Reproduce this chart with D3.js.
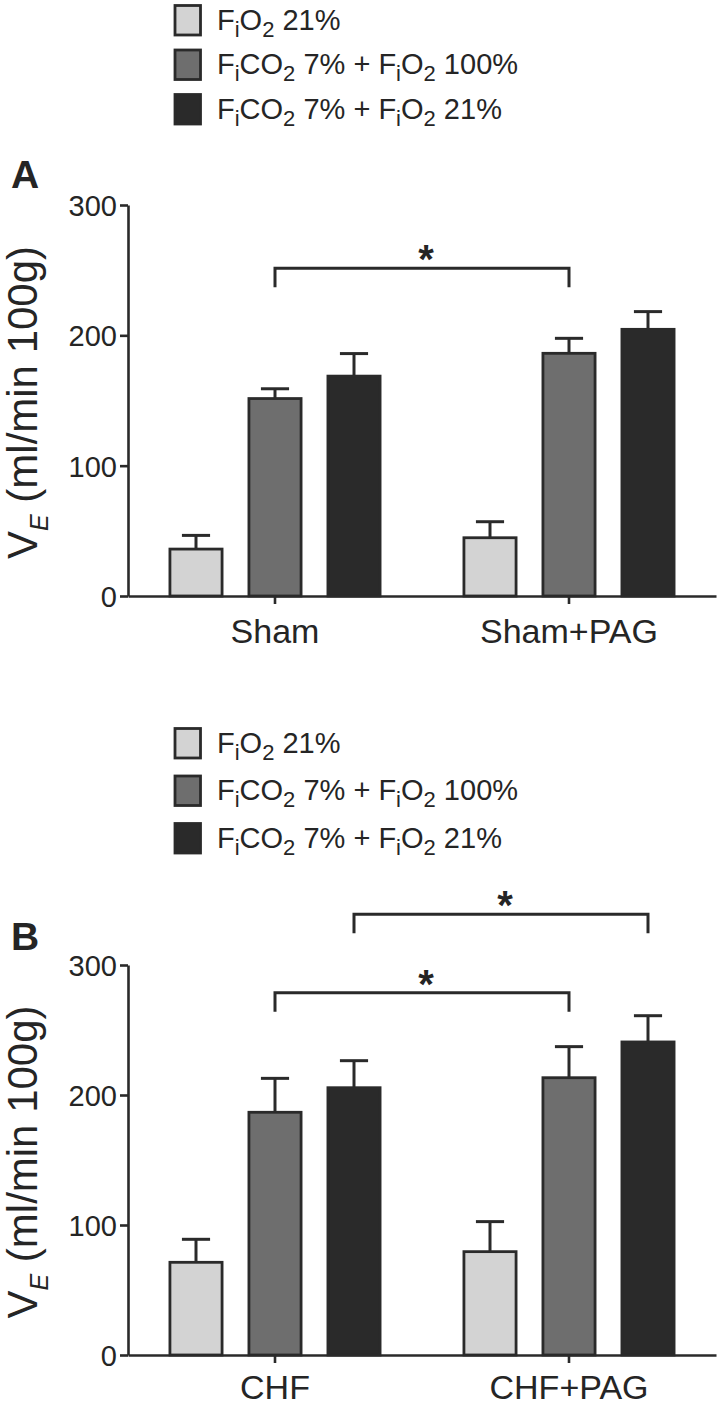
<!DOCTYPE html>
<html>
<head>
<meta charset="utf-8">
<script src="https://cdn.jsdelivr.net/npm/d3@7"></script>
<style>
  html, body { margin: 0; padding: 0; background: #ffffff; }
  svg { display: block; }
  text { font-family: "Liberation Sans", Arial, Helvetica, sans-serif; fill: #252525; }
</style>
</head>
<body>
<svg id="chart" width="720" height="1406"></svg>
<script>
// ---------------- data ----------------
const seriesKeys = ["O2_21", "CO2_7_O2_100", "CO2_7_O2_21"];
// legend labels as [text, isSubscript] parts
const legendLabels = [
  [["F", 0], ["i", 1], ["O", 0], ["2", 1], [" 21%", 0]],
  [["F", 0], ["i", 1], ["CO", 0], ["2", 1], [" 7% + F", 0], ["i", 1], ["O", 0], ["2", 1], [" 100%", 0]],
  [["F", 0], ["i", 1], ["CO", 0], ["2", 1], [" 7% + F", 0], ["i", 1], ["O", 0], ["2", 1], [" 21%", 0]]
];
const yTicks = [0, 100, 200, 300];

// Panel A
const groupsA = ["Sham", "Sham+PAG"];
const shamMean = [36, 151.5, 168.7];
const shamSem = [10.5, 7.5, 17.3];
const shamPagMean = [44.7, 186.2, 204.6];
const shamPagSem = [12.3, 11.5, 13.6];
// brackets: [group1, series1, group2, series2, level]
const bracketsA = [[0, 1, 1, 1, 251.5]];

// Panel B
const groupsB = ["CHF", "CHF+PAG"];
const chfMean = [71.3, 186.7, 205.6];
const chfSem = [17.7, 26.1, 20.8];
const chfPagMean = [79.5, 213.3, 240.8];
const chfPagSem = [23.1, 23.9, 20.2];
const bracketsB = [[0, 1, 1, 1, 278.7], [0, 2, 1, 2, 339]];

// ---------------- styles ----------------
const colors = ["#d3d3d3", "#6e6e6e", "#2a2a2a"];
const ink = "#2a2a2a";
const svg = d3.select("#chart");

function drawLegend(x, baselines) {
  const g = svg.append("g");
  legendLabels.forEach((parts, i) => {
    const b = baselines[i];
    g.append("rect")
      .attr("x", 175).attr("y", b - 24)
      .attr("width", 25.5).attr("height", 29.5)
      .attr("fill", colors[i]).attr("stroke", ink).attr("stroke-width", 2.8);
    const t = g.append("text").attr("x", x).attr("y", b).style("font-size", "29px");
    let shifted = false;
    parts.forEach(([txt, sub]) => {
      const ts = t.append("tspan").text(txt);
      if (sub && !shifted) { ts.attr("dy", 7).style("font-size", "22px"); shifted = true; }
      else if (sub) { ts.style("font-size", "22px"); }
      else if (!sub && shifted) { ts.attr("dy", -7); shifted = false; }
      ts.attr("xml:space", "preserve");
    });
  });
}

function drawPanel(cfg) {
  const { groups, means, sems, brackets, y0, y300, letter, letterY, labelY } = cfg;
  const x0 = d3.scaleBand().domain(groups).range([128, 716]).padding(0);
  const x1 = d3.scaleBand().domain(seriesKeys).range([-118.5, 118.5])
    .paddingInner(0.34).paddingOuter(0.17);
  const y = d3.scaleLinear().domain([0, 300]).range([y0, y300]);
  const bw = x1.bandwidth();
  const cx = (gi, si) => x0(groups[gi]) + x0.bandwidth() / 2 + x1(seriesKeys[si]) + bw / 2;

  const g = svg.append("g");

  // bars with error bars
  groups.forEach((grp, gi) => {
    seriesKeys.forEach((s, si) => {
      const m = means[gi][si], e = sems[gi][si];
      const left = x0(grp) + x0.bandwidth() / 2 + x1(s);
      g.append("line")
        .attr("x1", cx(gi, si)).attr("x2", cx(gi, si))
        .attr("y1", y(m)).attr("y2", y(m + e))
        .attr("stroke", ink).attr("stroke-width", 3);
      g.append("line")
        .attr("x1", cx(gi, si) - bw * 0.27).attr("x2", cx(gi, si) + bw * 0.27)
        .attr("y1", y(m + e)).attr("y2", y(m + e))
        .attr("stroke", ink).attr("stroke-width", 3);
      g.append("rect")
        .attr("x", left).attr("y", y(m))
        .attr("width", bw).attr("height", y(0) - y(m))
        .attr("fill", colors[si]).attr("stroke", ink).attr("stroke-width", 2.8);
    });
  });

  // y axis
  const ya = g.append("g").attr("transform", "translate(128,0)")
    .call(d3.axisLeft(y).tickValues(yTicks).tickSize(8).tickSizeOuter(0).tickPadding(3));
  ya.attr("font-family", null).attr("font-size", null);
  ya.select(".domain").attr("stroke", ink).attr("stroke-width", 2.6);
  ya.selectAll(".tick line").attr("stroke", ink).attr("stroke-width", 2.6);
  ya.selectAll(".tick text").style("font-size", "29px").attr("fill", ink).attr("dy", "0.36em");

  // x axis
  const xa = g.append("g").attr("transform", `translate(0,${y0})`)
    .call(d3.axisBottom(x0).tickSize(8).tickSizeOuter(0));
  xa.attr("font-family", null).attr("font-size", null);
  xa.select(".domain").attr("stroke", ink).attr("stroke-width", 2.6);
  xa.selectAll(".tick line").attr("stroke", ink).attr("stroke-width", 2.6);
  xa.selectAll(".tick text").style("font-size", "34px").attr("fill", ink)
    .attr("y", labelY).attr("dy", 0);

  // y title
  const mid = (y0 + y300) / 2;
  const yt = g.append("text")
    .attr("transform", `translate(37,${mid + 2}) rotate(-90)`)
    .attr("text-anchor", "middle").style("font-size", "42px");
  yt.append("tspan").text("V");
  yt.append("tspan").text("E").attr("dy", 11).style("font-size", "25px").style("font-style", "italic");
  yt.append("tspan").text(" (ml/min 100g)").attr("dy", -11).attr("xml:space", "preserve");

  // panel letter
  g.append("text").attr("x", 11).attr("y", letterY).text(letter)
    .style("font-size", "39px").style("font-weight", "bold").attr("fill", "#000");

  // significance brackets
  brackets.forEach(([g1, s1, g2, s2, lvl]) => {
    const xa1 = cx(g1, s1), xa2 = cx(g2, s2), yl = y(lvl);
    g.append("path")
      .attr("d", `M${xa1},${yl + 19}V${yl}H${xa2}V${yl + 19}`)
      .attr("fill", "none").attr("stroke", ink).attr("stroke-width", 3);
    g.append("text").attr("x", (xa1 + xa2) / 2 + 4).attr("y", yl + 5)
      .attr("text-anchor", "middle").text("*")
      .style("font-size", "40px").style("font-weight", "bold");
  });
}

drawLegend(217, [29.5, 74, 118.5]);
drawPanel({
  groups: groupsA, means: [shamMean, shamPagMean], sems: [shamSem, shamPagSem],
  brackets: bracketsA, y0: 596, y300: 205, letter: "A", letterY: 188, labelY: 47
});

drawLegend(217, [752.5, 800, 847.5]);
drawPanel({
  groups: groupsB, means: [chfMean, chfPagMean], sems: [chfSem, chfPagSem],
  brackets: bracketsB, y0: 1355, y300: 965, letter: "B", letterY: 950, labelY: 44
});
</script>
</body>
</html>
